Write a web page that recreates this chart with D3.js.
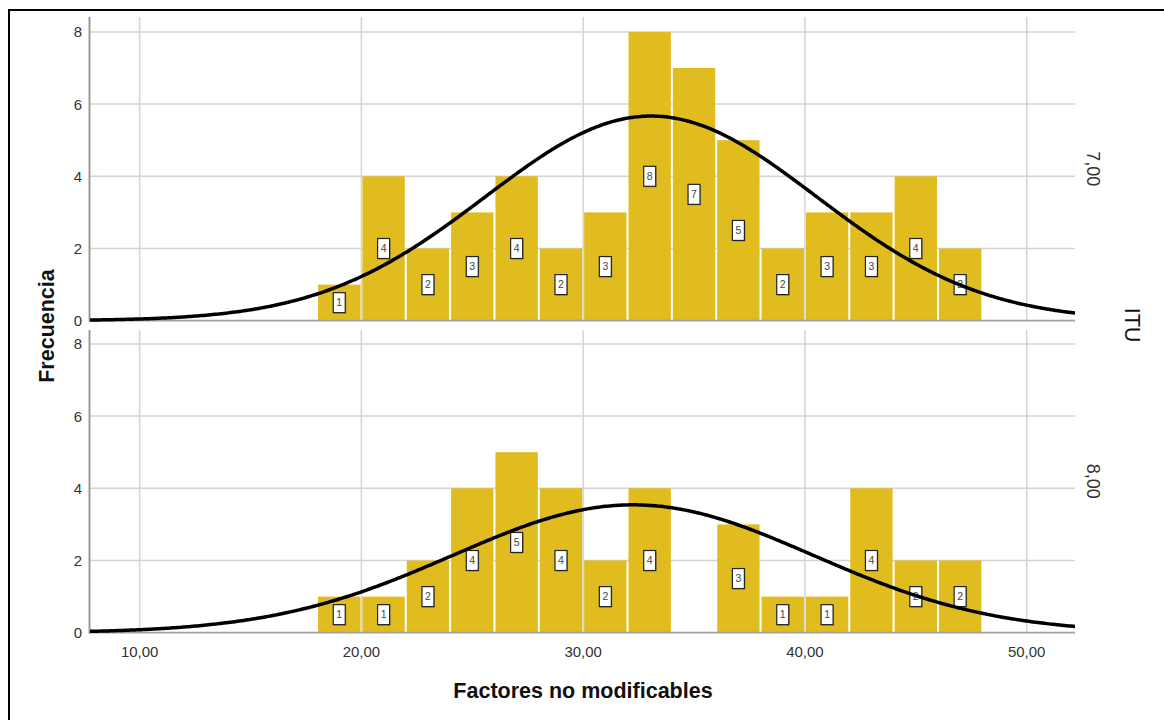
<!DOCTYPE html>
<html lang="es">
<head>
<meta charset="utf-8">
<script src="https://cdn.jsdelivr.net/npm/d3@7"></script>
<style>
body{margin:0;background:#fff;}
svg{display:block;font-family:"Liberation Sans",Arial,sans-serif;}
</style>
</head>
<body>
<div id="chart"></div>
<script>
// bins are 2 units wide, start values
const binStarts=[18,20,22,24,26,28,30,32,34,36,38,40,42,44,46]
const binWidth=2
const ituLevels=["7,00","8,00"]
const counts7=[1,4,2,3,4,2,3,8,7,5,2,3,3,4,2]
const counts8=[1,1,2,4,5,4,2,4,0,3,1,1,4,2,2]
const curveMean=[33.06,32.25]
const curveSd=[7.46,8.11]
const yTicks=[0,2,4,6,8]
const xTicks=[10,20,30,40,50]

const W=1164,H=720
const svg=d3.select("#chart").append("svg").attr("width",W).attr("height",H)

// outer frame (only left/top visible in the picture)
svg.append("rect").attr("x",9).attr("y",10).attr("width",1200).attr("height",760)
  .attr("fill","none").attr("stroke","#000").attr("stroke-width",2)

const x=d3.scaleLinear().domain([7.76,52.18]).range([90,1075])
const panels=[
  {label:ituLevels[0],counts:counts7,mu:curveMean[0],sd:curveSd[0],top:17,bottom:320.7},
  {label:ituLevels[1],counts:counts8,mu:curveMean[1],sd:curveSd[1],top:330,bottom:632.7}
]

panels.forEach((p,pi)=>{
  const y=d3.scaleLinear().domain([0,8]).range([p.bottom,p.bottom-8*36.1])
  const g=svg.append("g")
  const clipId="clip"+pi
  svg.append("clipPath").attr("id",clipId).append("rect")
    .attr("x",90).attr("y",p.top).attr("width",985).attr("height",p.bottom-p.top+2)

  // grid
  g.selectAll(".hg").data(yTicks.filter(d=>d>0)).enter().append("line")
    .attr("x1",90).attr("x2",1075).attr("y1",d=>y(d)).attr("y2",d=>y(d))
    .attr("stroke","#d4d4d4").attr("stroke-width",1.5)
  g.selectAll(".vg").data(xTicks).enter().append("line")
    .attr("x1",d=>x(d)).attr("x2",d=>x(d)).attr("y1",p.top).attr("y2",p.bottom)
    .attr("stroke","#d4d4d4").attr("stroke-width",1.5)

  // bars
  const bins=binStarts.map((s,i)=>({s:s,n:p.counts[i]})).filter(d=>d.n>0)
  g.selectAll(".bar").data(bins).enter().append("rect")
    .attr("x",d=>x(d.s)+1).attr("width",d=>x(d.s+binWidth)-x(d.s)-2)
    .attr("y",d=>y(d.n)).attr("height",d=>y(0)-y(d.n))
    .attr("fill","#e0bc1f")

  // axis lines
  g.append("line").attr("x1",90).attr("x2",1075).attr("y1",p.bottom).attr("y2",p.bottom)
    .attr("stroke","#a0a0a0").attr("stroke-width",1.8)
  g.append("line").attr("x1",89.5).attr("x2",89.5).attr("y1",p.top).attr("y2",p.bottom+1)
    .attr("stroke","#909090").attr("stroke-width",1.8)

  // y tick labels
  g.selectAll(".yt").data(yTicks).enter().append("text")
    .attr("x",82).attr("y",d=>y(d)).attr("dy","0.36em").attr("text-anchor","end")
    .attr("font-size",15).attr("fill","#333").text(d=>d)

  // count labels
  const lab=g.selectAll(".lab").data(bins).enter().append("g")
    .attr("transform",d=>`translate(${x(d.s+binWidth/2)},${y(d.n/2)})`)
  lab.append("rect").attr("x",-5).attr("y",-9).attr("width",12).attr("height",20)
    .attr("fill","#666").attr("opacity",0.5)
  lab.append("rect").attr("x",-6).attr("y",-10).attr("width",12).attr("height",20)
    .attr("fill","#fff").attr("stroke","#222").attr("stroke-width",1.2)
  lab.append("text").attr("y",0).attr("dy","0.36em").attr("text-anchor","middle")
    .attr("font-size",10.5).attr("fill","#444").text(d=>d.n)

  // normal curve
  const n=d3.sum(p.counts)
  const pts=d3.range(7.5,52.5,0.1).map(v=>[v,n*binWidth/(p.sd*Math.sqrt(2*Math.PI))*Math.exp(-0.5*((v-p.mu)/p.sd)**2)])
  g.append("path").datum(pts).attr("clip-path",`url(#${clipId})`)
    .attr("d",d3.line().x(d=>x(d[0])).y(d=>y(d[1])).curve(d3.curveBasis))
    .attr("fill","none").attr("stroke","#000").attr("stroke-width",3.5)

  // facet label
  const cy=(p.top+p.bottom)/2
  g.append("text").attr("transform",`translate(1093,${cy}) rotate(90)`)
    .attr("text-anchor","middle").attr("dy","0.36em").attr("font-size",18).attr("fill","#333").text(p.label)
})

// x tick labels under bottom panel
svg.selectAll(".xt").data(xTicks).enter().append("text")
  .attr("x",d=>x(d)).attr("y",657).attr("text-anchor","middle")
  .attr("font-size",15).attr("fill","#333").text(d=>d3.format(".2f")(d).replace(".",","))

svg.append("text").attr("x",583).attr("y",698).attr("text-anchor","middle")
  .attr("font-size",21.5).attr("font-weight","bold").attr("fill","#111").text("Factores no modificables")
svg.append("text").attr("transform","translate(46,326) rotate(-90)").attr("text-anchor","middle")
  .attr("dy","0.36em").attr("font-size",21.5).attr("font-weight","bold").attr("fill","#111").text("Frecuencia")
svg.append("text").attr("transform","translate(1133,325) rotate(90)").attr("text-anchor","middle")
  .attr("dy","0.36em").attr("font-size",21.5).attr("fill","#111").text("ITU")
</script>
</body>
</html>
